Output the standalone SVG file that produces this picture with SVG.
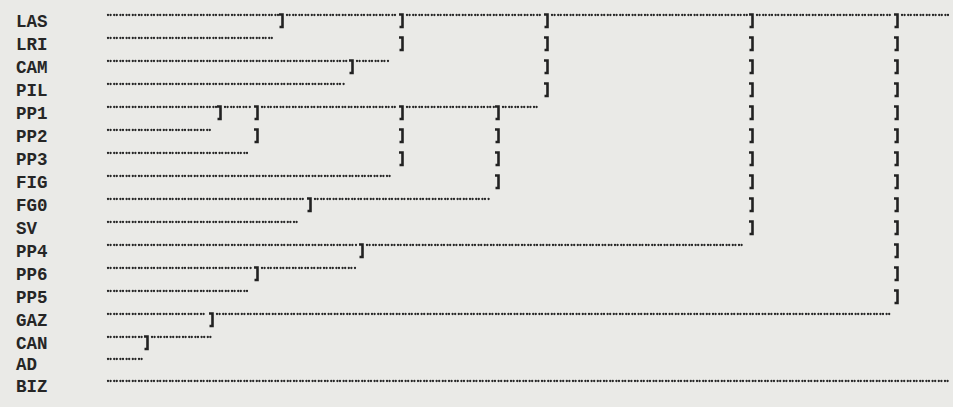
<svg xmlns="http://www.w3.org/2000/svg" xmlns:xlink="http://www.w3.org/1999/xlink" width="953" height="407" viewBox="0 0 953 407">
<style>
.lbl{font-family:"Liberation Mono","DejaVu Sans Mono",monospace;font-size:17.5px;font-weight:bold;fill:#262626}
.dot{stroke:#262626;stroke-width:2.3;stroke-linecap:round;stroke-dasharray:0 2.6 0 3.6;fill:none}
.br{stroke:#222;stroke-width:2.6;fill:none}
</style>
<defs>
<path id="br" class="br" d="M-3,0.5 H0.5 V13 H-2.5"/>
</defs>
<rect width="953" height="407" fill="#eaeae7"/>
<g id="LAS"><text class="lbl" x="16" y="27">LAS</text></g>
<g id="LRI"><text class="lbl" x="16" y="50">LRI</text></g>
<g id="CAM"><text class="lbl" x="16" y="73">CAM</text></g>
<g id="PIL"><text class="lbl" x="16" y="96">PIL</text></g>
<g id="PP1"><text class="lbl" x="16" y="119">PP1</text></g>
<g id="PP2"><text class="lbl" x="16" y="142">PP2</text></g>
<g id="PP3"><text class="lbl" x="16" y="165">PP3</text></g>
<g id="FIG"><text class="lbl" x="16" y="188">FIG</text></g>
<g id="FG0"><text class="lbl" x="16" y="211">FG0</text></g>
<g id="SV"><text class="lbl" x="16" y="234">SV</text></g>
<g id="PP4"><text class="lbl" x="16" y="257">PP4</text></g>
<g id="PP6"><text class="lbl" x="16" y="280">PP6</text></g>
<g id="PP5"><text class="lbl" x="16" y="303">PP5</text></g>
<g id="GAZ"><text class="lbl" x="16" y="326">GAZ</text></g>
<g id="CAN"><text class="lbl" x="16" y="349">CAN</text></g>
<g id="AD"><text class="lbl" x="16" y="370">AD</text></g>
<g id="BIZ"><text class="lbl" x="16" y="392">BIZ</text></g>
<g id="connectors">
<path class="dot" d="M108,15H278M287,15H398M407,15H543M552,15H748M757,15H893M902,15H951"/>
<use xlink:href="#br" x="282" y="14"/><use xlink:href="#br" x="402" y="14"/><use xlink:href="#br" x="547" y="14"/><use xlink:href="#br" x="752" y="14"/><use xlink:href="#br" x="897" y="14"/>
<path class="dot" d="M108,38H273"/>
<use xlink:href="#br" x="402" y="37"/><use xlink:href="#br" x="547" y="37"/><use xlink:href="#br" x="752" y="37"/><use xlink:href="#br" x="897" y="37"/>
<path class="dot" d="M108,61H348M357,61H390"/>
<use xlink:href="#br" x="352" y="60"/><use xlink:href="#br" x="547" y="60"/><use xlink:href="#br" x="752" y="60"/><use xlink:href="#br" x="897" y="60"/>
<path class="dot" d="M108,84H345"/>
<use xlink:href="#br" x="547" y="83"/><use xlink:href="#br" x="752" y="83"/><use xlink:href="#br" x="897" y="83"/>
<path class="dot" d="M108,107H216M225,107H252M262,107H398M407,107H494M503,107H538"/>
<use xlink:href="#br" x="220" y="106"/><use xlink:href="#br" x="257" y="106"/><use xlink:href="#br" x="402" y="106"/><use xlink:href="#br" x="498" y="106"/><use xlink:href="#br" x="752" y="106"/><use xlink:href="#br" x="897" y="106"/>
<path class="dot" d="M108,130H212"/>
<use xlink:href="#br" x="257" y="129"/><use xlink:href="#br" x="402" y="129"/><use xlink:href="#br" x="498" y="129"/><use xlink:href="#br" x="752" y="129"/><use xlink:href="#br" x="897" y="129"/>
<path class="dot" d="M108,153H248"/>
<use xlink:href="#br" x="402" y="152"/><use xlink:href="#br" x="498" y="152"/><use xlink:href="#br" x="752" y="152"/><use xlink:href="#br" x="897" y="152"/>
<path class="dot" d="M108,176H392"/>
<use xlink:href="#br" x="498" y="175"/><use xlink:href="#br" x="752" y="175"/><use xlink:href="#br" x="897" y="175"/>
<path class="dot" d="M108,199H305M315,199H490"/>
<use xlink:href="#br" x="310" y="198"/><use xlink:href="#br" x="752" y="198"/><use xlink:href="#br" x="897" y="198"/>
<path class="dot" d="M108,222H297"/>
<use xlink:href="#br" x="752" y="221"/><use xlink:href="#br" x="897" y="221"/>
<path class="dot" d="M108,245H358M367,245H745"/>
<use xlink:href="#br" x="362" y="244"/><use xlink:href="#br" x="897" y="244"/>
<path class="dot" d="M108,268H252M262,268H357"/>
<use xlink:href="#br" x="257" y="267"/><use xlink:href="#br" x="897" y="267"/>
<path class="dot" d="M108,291H248"/>
<use xlink:href="#br" x="897" y="290"/>
<path class="dot" d="M108,314H207M217,314H890"/>
<use xlink:href="#br" x="212" y="313"/>
<path class="dot" d="M108,337H143M152,337H213"/>
<use xlink:href="#br" x="147" y="336"/>
<path class="dot" d="M108,359H143"/>
<path class="dot" d="M108,381H951"/>
</g>
</svg>
